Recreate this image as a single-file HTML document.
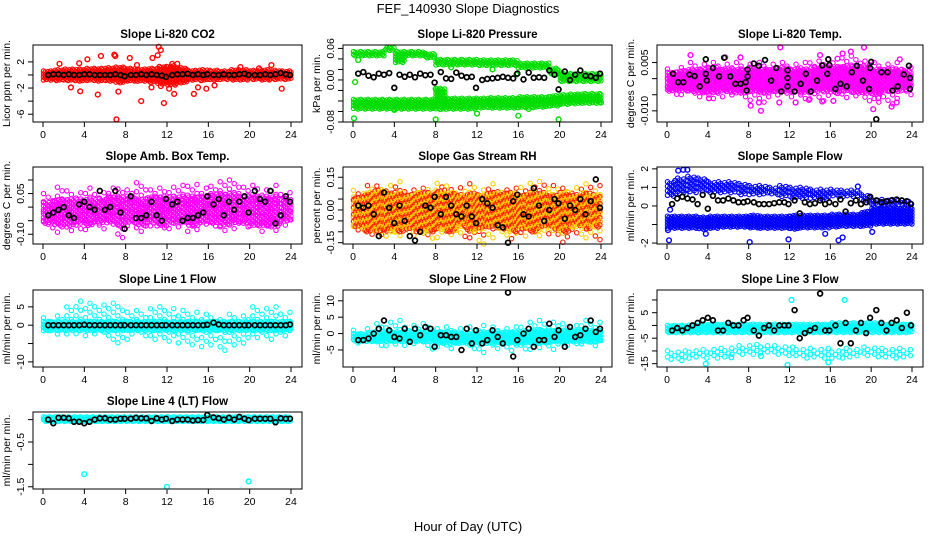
<!DOCTYPE html>
<html><head><meta charset="utf-8"><title>FEF_140930 Slope Diagnostics</title>
<style>
html,body{margin:0;padding:0;background:#fff;}
svg{display:block;font-family:"Liberation Sans",Arial,sans-serif;}
</style></head>
<body>
<svg id="chart" width="936" height="540" viewBox="0 0 936 540" xmlns="http://www.w3.org/2000/svg">
<rect x="0" y="0" width="936" height="540" fill="#fff"/>
<text x="468" y="13" text-anchor="middle" font-size="13">FEF_140930  Slope Diagnostics</text>
<text x="468" y="531" text-anchor="middle" font-size="13">Hour of Day (UTC)</text>
</svg>
<script>
// ---------- data ----------
const blackHours=[0.5,1,1.5,2,2.5,3,3.5,4,4.5,5,5.5,6,6.5,7,7.5,7.9,8.5,9,9.5,10,10.5,11,11.5,11.9,12.5,13,13.5,14,14.5,15,15.5,15.9,16.5,17,17.5,18,18.5,19,19.5,19.9,20.5,21,21.5,22,22.5,23,23.5,23.9];
const xTicks=[0,4,8,12,16,20,24];
// P1 CO2
const p1Lo=[-0.8,-0.9,-0.9,-1,-0.9,-1,-1,-1.2,-1,-1,-1.2,-1.4,-1.6,-1.2,-0.8,-0.9,-0.8,-0.7,-0.8,-0.8,-0.7,-0.8,-0.7,-0.7];
const p1Hi=[0.6,0.8,0.9,0.9,1,1,1.1,1.2,1,0.9,1,1.3,1.4,1.1,0.7,0.8,0.7,0.6,0.8,0.8,0.7,0.8,0.7,0.6];
const p1OutH=[1.6,3.5,4.3,5.6,6.9,7.0,8.4,11.2,11.4,11.1,10.6,3.6,5.3,7.3,7.1,9.5,11.7,11.4,12.2,12.7,12.5,13,14.6,15,15.8,16.6,19.1,20.9,22.1,23.1,10.5,9.1,2.7];
const p1OutV=[1.7,1.8,2.4,2.9,3.1,2.9,2.6,4.3,3.8,3.0,2.6,-2.5,-3.0,-2.55,-6.8,-4.0,-4.3,-1.7,-2.1,-2.9,1.7,1.7,-2.9,-1.9,-2.1,-1.6,1.2,1.0,1.5,-2.1,-1.9,1.5,-1.9];
const p1Black=[0,0.1,0.1,0,0.1,0,0,0.1,0.1,0,0,0,0,0.1,0,-0.2,0,0,0.1,0,0.1,0,-0.1,-0.3,0,0.1,0.1,0.2,0,0.1,0,0.1,0,0,0.1,0,0,0.1,0.2,0,0,0,0.1,0,0.1,0.3,0.1,0];
// P2 Pressure
const p2UpHi=[0.054,0.054,0.054,0.062,0.054,0.054,0.054,0.05,0.039,0.039,0.039,0.039,0.038,0.038,0.038,0.038,0.032,0.032,0.032,0.022,0.012,0.012,0.012,0.012];
const p2UpLo=[0.046,0.046,0.046,0.056,0.033,0.045,0.045,0.042,0.028,0.028,0.028,0.028,0.027,0.027,0.027,0.027,0.022,0.022,0.022,0.01,-0.003,-0.003,-0.003,-0.003];
const p2DnHi=[-0.037,-0.037,-0.037,-0.037,-0.037,-0.037,-0.037,-0.037,-0.016,-0.035,-0.035,-0.035,-0.035,-0.034,-0.034,-0.034,-0.032,-0.032,-0.032,-0.03,-0.028,-0.027,-0.026,-0.026];
const p2DnLo=[-0.056,-0.056,-0.056,-0.056,-0.056,-0.056,-0.056,-0.056,-0.056,-0.056,-0.056,-0.056,-0.054,-0.054,-0.054,-0.054,-0.053,-0.053,-0.052,-0.05,-0.047,-0.046,-0.045,-0.045];
const p2OutH=[0.2,0.1,4,8,12,16,19.9,24,8,0.5,9.5,13.5,15.8,17];
const p2OutV=[-0.004,-0.073,-0.057,-0.075,-0.064,-0.068,-0.075,-0.043,-0.017,0.038,0.024,0.02,0.01,-0.055];
const p2Black=[0.012,0.015,0.008,0.005,0.012,0.01,0.013,-0.015,0.01,0.006,0.01,0.005,0.012,0.009,0.01,-0.005,0.015,0.003,0.002,0.014,0.008,0.005,0.006,-0.015,0,0.002,0.003,0.004,0.006,0.004,0.003,0.012,0.001,0.014,0.004,0.005,0.004,0.018,0.01,-0.018,0.016,0,0.01,0.018,0.008,0.007,0.004,0.012];
// P3 Li-820 Temp
const p3Lo=[-0.004,-0.004,-0.004,-0.0045,-0.0045,-0.004,-0.0045,-0.0045,-0.004,-0.0045,-0.004,-0.004,-0.004,-0.0045,-0.004,-0.004,-0.0045,-0.004,-0.0045,-0.0045,-0.005,-0.004,-0.004,-0.0035];
const p3Hi=[0.002,0.0025,0.003,0.003,0.0035,0.003,0.003,0.003,0.0035,0.003,0.003,0.0035,0.003,0.003,0.0035,0.004,0.0035,0.004,0.004,0.004,0.003,0.003,0.003,0.0025];
const p3SpLo=[-0.005,-0.005,-0.006,-0.006,-0.007,-0.006,-0.006,-0.007,-0.007,-0.008,-0.006,-0.006,-0.006,-0.007,-0.007,-0.007,-0.006,-0.006,-0.006,-0.007,-0.008,-0.007,-0.008,-0.005];
const p3SpHi=[0.003,0.004,0.005,0.005,0.005,0.005,0.005,0.005,0.005,0.005,0.005,0.005,0.005,0.005,0.006,0.006,0.006,0.007,0.007,0.006,0.005,0.005,0.005,0.004];
const p3OutH=[2.3,5.7,7.2,11.1,4.1,8.2,9.2,9.0,11.0,12.6,13.9,15.2,16.3,17.2,18,19.3,20.2,22,22.5,22.8,15,16.7,20.7,0.2];
const p3OutV=[0.0073,0.0066,0.0066,0.0097,-0.0061,-0.0084,-0.0100,-0.0074,-0.0074,-0.0074,-0.0066,-0.0071,-0.0069,0.0078,0.0084,0.0097,-0.0095,-0.0087,-0.0074,0.006,0.0073,0.0062,-0.006,-0.003];
const p3BlackH=[0.6,1.1,1.6,2.2,2.7,3.2,3.8,3.8,3.9,4.5,5.1,5.6,6.2,6.7,7.2,7.7,7.8,7.9,7.9,8.5,9,9.6,10.2,10.7,11.2,11.8,11.8,11.8,12.5,13.1,13.6,14.1,14.7,15.2,15.7,15.8,15.9,16.5,17,17.6,18.1,18.6,19.2,19.8,19.9,20,20.5,21,21.6,22.1,22.6,23.2,23.7,23.8,23.8];
const p3BlackV=[0.0015,-0.0011,-0.0011,0.0013,0.0008,-0.0024,0.0015,0.006,-0.0006,0.0033,0.0007,0.0065,0.0007,-0.0016,-0.0016,-0.0011,-0.0037,0.0007,0.0028,0.0047,0.004,0.0058,-0.0006,0.0033,-0.004,-0.0024,0.0002,0.0026,-0.004,-0.0016,0.0015,-0.004,-0.0006,0.0041,0.0015,0.006,0.0042,-0.0032,-0.0016,-0.0024,0.002,0.004,-0.0006,-0.0032,0.0033,0.0052,-0.0126,0.002,0.002,-0.0037,-0.0024,0.0013,0.004,-0.0032,0.0002];
// P4 Amb box temp
const p4Lo=[-0.06,-0.07,-0.07,-0.06,-0.07,-0.06,-0.06,-0.07,-0.06,-0.07,-0.06,-0.07,-0.06,-0.06,-0.07,-0.06,-0.06,-0.07,-0.06,-0.06,-0.07,-0.07,-0.07,-0.05];
const p4Hi=[0.02,0.03,0.03,0.03,0.03,0.03,0.04,0.04,0.04,0.03,0.04,0.04,0.04,0.04,0.04,0.04,0.05,0.05,0.05,0.04,0.04,0.04,0.04,0.03];
const p4SpLo=[-0.08,-0.1,-0.09,-0.09,-0.09,-0.08,-0.08,-0.12,-0.08,-0.09,-0.08,-0.08,-0.09,-0.08,-0.09,-0.08,-0.08,-0.09,-0.08,-0.09,-0.08,-0.1,-0.09,-0.07];
const p4SpHi=[0.05,0.08,0.06,0.06,0.07,0.06,0.07,0.08,0.07,0.09,0.07,0.07,0.08,0.08,0.09,0.07,0.09,0.1,0.1,0.08,0.08,0.07,0.08,0.06];
const p4Black=[-0.03,-0.02,-0.01,0,-0.03,-0.04,0.01,0.02,0,-0.01,0.06,-0.01,0,0.06,-0.02,-0.08,0.04,-0.04,-0.04,-0.03,0.02,-0.03,-0.05,0.03,0.01,0.02,-0.05,-0.04,-0.04,-0.03,-0.02,0.04,0.01,0.03,-0.03,0.02,-0.01,0.02,0.04,-0.02,0.06,0.03,0.02,0.06,-0.06,-0.03,0.04,0.02];
// P5 Gas stream RH
const p5Lo=[-0.08,-0.1,-0.1,-0.1,-0.1,-0.09,-0.1,-0.1,-0.09,-0.1,-0.08,-0.1,-0.09,-0.08,-0.09,-0.1,-0.09,-0.1,-0.08,-0.09,-0.1,-0.08,-0.09,-0.08];
const p5Hi=[0.06,0.08,0.09,0.08,0.08,0.07,0.08,0.08,0.09,0.08,0.07,0.08,0.07,0.08,0.08,0.08,0.07,0.08,0.08,0.07,0.08,0.07,0.08,0.07];
const p5SpLo=[-0.1,-0.13,-0.13,-0.13,-0.12,-0.12,-0.13,-0.14,-0.13,-0.12,-0.13,-0.14,-0.16,-0.13,-0.12,-0.14,-0.13,-0.12,-0.13,-0.12,-0.15,-0.12,-0.13,-0.14];
const p5SpHi=[0.09,0.12,0.11,0.12,0.13,0.1,0.1,0.11,0.13,0.11,0.11,0.12,0.1,0.12,0.1,0.1,0.12,0.13,0.13,0.12,0.1,0.11,0.12,0.12];
const p5Black=[0.02,0.01,0.02,-0.02,-0.12,0.08,0.01,-0.06,0.02,-0.05,-0.12,-0.14,-0.1,0.02,0.01,0.06,-0.02,0.06,0.02,-0.02,-0.03,0.02,-0.03,-0.06,0.05,0.03,0.01,-0.07,-0.08,-0.15,0.04,0.07,-0.02,-0.03,0.1,0.02,-0.05,0,0.05,0.03,-0.04,0.02,0,0.05,-0.02,0.04,0.14,0.01];
// P6 Sample flow
const p6UpHi=[1.3,1.5,1.6,1.5,1.3,1.3,1.3,1.2,1.1,1.1,1.0,1.1,1.0,1.0,0.9,0.9,0.9,0.85,0.85,0.6,0.35,0.35,0.35,0.3];
const p6UpLo=[0.5,0.6,0.7,0.8,0.7,0.7,0.7,0.6,0.6,0.6,0.6,0.5,0.4,0.4,0.4,0.3,0.5,0.5,0.5,0.2,0.0,0.0,0.0,0.0];
const p6DnHi=[-0.55,-0.55,-0.55,-0.6,-0.55,-0.55,-0.55,-0.55,-0.5,-0.55,-0.55,-0.55,-0.5,-0.5,-0.5,-0.5,-0.45,-0.45,-0.45,-0.3,-0.1,-0.1,-0.1,-0.1];
const p6DnLo=[-1.2,-1.2,-1.2,-1.25,-1.2,-1.15,-1.15,-1.15,-1.2,-1.2,-1.2,-1.2,-1.25,-1.2,-1.2,-1.2,-1.15,-1.1,-1.1,-1.1,-1.0,-1.0,-1.0,-1.0];
const p6OutH=[0.2,0.3,0.8,1.1,1.6,2,0.1,3.8,8.1,11.9,15.5,16.8,17.2,20.1,18.7];
const p6OutV=[-1.85,-0.2,1.35,1.9,1.95,1.95,-1.3,-1.5,-1.95,-1.8,-1.5,-1.85,-1.7,-1.4,1.05];
const p6Black=[0.1,0.4,0.5,0.4,0.35,0.1,0.6,-0.15,0.55,0.3,0.3,0.4,0.3,0.2,0.2,0.25,0.2,0.1,0.1,0.1,0.15,0.2,0.2,0.1,0.3,-0.4,0.2,0.1,0.15,0.3,0.1,0.2,0.1,0.35,-0.3,0.15,0.3,0.1,0.2,0.5,0.3,0.2,0.25,0.3,0.35,0.3,0.25,0.1];
// P7 Line 1
const p7Lo=[-1.5,-1.5,-1.5,-1.5,-1.5,-1.5,-1.5,-1.5,-1.5,-1.5,-1.5,-1.5,-1.5,-1.5,-1.5,-1.5,-1.5,-1.5,-1.5,-1.5,-1.5,-1.5,-1.5,-1.5];
const p7Hi=[1,1,1,1,1,1,1,1,1,1,1,1,1,1,1,1,1,1,1,1,1,1,1,1];
const p7SpLo=[-2,-3,-3,-3,-3,-3,-4,-5,-4,-3,-5,-4,-5,-5,-6,-6,-6,-7,-6,-5,-4,-4,-4,-3];
const p7SpHi=[2,3,5,7,6,6,6,6,4,4,5,5,5,4,4,3,3,2,3,3,5,5,5,4];
const p7Black=[0,0,0,0,0,0,0,0.1,0,0,0,0,0,0,0,0,0,0,0,0,0,0,0,0,0,0,0,0,0,0,0,0.1,0.7,0.2,0,0,0,0,0,0,0,0,0,0,0,0,0,0.2];
// P8 Line 2
const p8Lo=[-2.5,-2.5,-2.5,-2.5,-2.5,-2.5,-2.5,-2.5,-3,-3,-3,-3,-3,-3,-3,-3,-3,-3,-3,-2.5,-2.5,-2.5,-2.5,-2.5];
const p8Hi=[0,0,0.5,0.5,0.5,0.5,0.5,0.5,0.5,0.5,0,0,0.5,0.5,0.5,0.5,0.5,1,1,1,1,1,1,1];
const p8SpLo=[-3,-4,-4,-4,-4,-4,-4,-5,-5,-5,-4,-5,-6,-5,-5,-6,-6,-5,-5,-5,-5,-4,-4,-4];
const p8SpHi=[1,2,3,4,4,3,3,3,2,2,2,2,3,2,2,2,3,4,4,4,3,3,4,4];
const p8Black=[-2,-2,-1.5,0,1.5,4,1,-1,-1.5,1.5,-2.5,1.5,-0.5,2,1.5,-4,-0.5,-0.5,-1,-1,-5,1.5,-3,1,-3,-2,1,-1,-3,12.5,-7,-2,0,1.5,-4,-2,-2,3,-1,1,-4,2,-1,-0.5,1.5,4,0.5,1.5];
// P9 Line 3
const p9UpLo=[-3,-3,-3,-3,-3,-3,-3,-3,-3,-3,-3,-3,-3,-3,-3,-3,-3,-3,-3,-3,-3,-3,-3,-3];
const p9UpHi=[0,0,0,0.5,0.5,0.5,0.5,0.5,0.5,0.5,0.5,0.5,0.5,0.5,0.5,0.5,1,1,1,1,1,0.5,0.5,0.5];
const p9DnLo=[-14,-14,-13.5,-13,-13,-12.5,-12,-12,-11.5,-11,-11.5,-12,-12.5,-13,-13,-13,-13,-13,-12.5,-12.5,-12.5,-13,-13,-13];
const p9DnHi=[-10,-10,-9.5,-9.5,-9,-9,-8.5,-8,-7.5,-7.5,-8,-8,-8.5,-9,-9,-9,-9.5,-9,-9,-8.5,-8.5,-9,-9,-9];
const p9OutH=[3.8,12.2,17.4,15.8,11.8,9.2,6.3];
const p9OutV=[-15,10,10,-14.5,-15.5,-12,-12.5];
const p9Black=[-2,-1,-2,-1,0,1,2,3,2,-2,-2,1,0,0,2,3,-2,-4,-1,0,-2,0,0,0,6,-5,-3,-2,-1,12.5,-2,-2,0,-7,1,-7,-2,1,-3,3,6,1,-2,1,2,-1,5,0];
// P10 Line 4
const p10Lo=[-0.05,-0.05,-0.05,-0.05,-0.05,-0.05,-0.05,-0.05,-0.05,-0.05,-0.05,-0.05,-0.05,-0.05,-0.05,-0.05,-0.05,-0.05,-0.05,-0.05,-0.05,-0.05,-0.05,-0.05];
const p10Hi=[0.06,0.06,0.06,0.06,0.06,0.06,0.06,0.06,0.06,0.06,0.06,0.06,0.06,0.06,0.06,0.06,0.06,0.06,0.06,0.06,0.06,0.06,0.06,0.06];
const p10OutH=[4,12,19.9];
const p10OutV=[-1.22,-1.5,-1.38];
const p10Black=[0,-0.08,0.04,0.04,0.03,-0.05,-0.05,-0.08,-0.05,0,0.03,0.03,0,0,0.02,0.02,0.02,0.04,0.03,0.03,-0.03,0.03,0,0.02,-0.03,0,0,0,-0.02,-0.01,-0.01,0.1,0.05,0.03,0,0.04,0,0.06,0.02,-0.01,0.02,0.02,0.02,0.02,-0.06,0.03,0.02,0.02];

// ---------- drawing ----------
const NS="http://www.w3.org/2000/svg";
const svg=document.getElementById('chart');
const colL=[33,343,657], colR=[302,612,923], rowT=[45,167,290,412], BH=77;
function mk(tag,attrs,parent){const e=document.createElementNS(NS,tag);for(const k in attrs)e.setAttribute(k,attrs[k]);(parent||svg).appendChild(e);return e;}
function panel(col,row,yMin,yMax,yTicks,yLabels,title,ytitle,name){
  const L=colL[col],R=colR[col],T=rowT[row],B=T+BH;
  const x0=L+10,x1=R-11;
  const g=mk('g',{});
  
  
  const p={L,R,T,B,g,
    x:h=>x0+(h/24)*(x1-x0),
    y:v=>B-(v-yMin)/(yMax-yMin)*(B-T)};
  const t=mk('text',{x:(L+R)/2,y:T-7,'text-anchor':'middle','font-size':'11.5','font-weight':'bold'},g);
  t.textContent=title;
  
  
  const yt=mk('text',{x:0,y:0,'text-anchor':'middle','font-size':'10.5',transform:`translate(${L-23},${(T+B)/2}) rotate(-90)`},g);
  yt.textContent=ytitle;
  
  
  const xa=mk('g',{},g);
  
  
  xTicks.forEach(v=>{const xx=p.x(v);
    mk('line',{x1:xx,y1:B,x2:xx,y2:B+5,stroke:'#000','stroke-width':1},xa);
    const tl=mk('text',{x:xx,y:B+16,'text-anchor':'middle','font-size':'10.5'},xa);tl.textContent=v;
    
    });
  const ya=mk('g',{},g);
  
  
  yTicks.forEach((v,i)=>{const yy=p.y(v);
    mk('line',{x1:L-5,y1:yy,x2:L,y2:yy,stroke:'#000','stroke-width':1},ya);
    if(yLabels[i]!==''){const tl=mk('text',{x:0,y:0,'text-anchor':'middle','font-size':'10.5',transform:`translate(${L-9},${yy}) rotate(-90)`},ya);tl.textContent=yLabels[i];
      
      }});
  p.pts=mk('g',{},g);
  
  
  return p;
}
function frame(p){const r=mk('rect',{x:p.L,y:p.T,width:p.R-p.L,height:p.B-p.T,fill:'none',stroke:'#000','stroke-width':1},p.g);
  
  }
function dot(p,h,v,color,w){const c=mk('circle',{cx:p.x(h).toFixed(1),cy:p.y(v).toFixed(1),r:2.4,fill:'none',stroke:color,'stroke-width':w||1.4},p.pts);
  
  }
function cloud(p,lo,hi,dx,dy,colors){
  for(let i=0;;i++){const t=0.05+i*dx;if(t>24)break;const h=Math.min(23,Math.floor(t));
    const yHi=p.y(hi[h]),yLo=p.y(lo[h]);const off=((i*37)%5)/5*dy;let j=0;
    for(let yy=yHi+off;yy<=yLo;yy+=dy,j++){const col=colors[(i+j)%colors.length];
      const c=mk('circle',{cx:p.x(t).toFixed(1),cy:yy.toFixed(1),r:2.2,fill:'none',stroke:col,'stroke-width':1.1},p.pts);
      
      }}
}
function outl(p,H,V,color){H.forEach((h,i)=>dot(p,h,V[i],color));}
function black(p,H,V){H.forEach((h,i)=>dot(p,h,V[i],'#000',1.7));}

const RED='#ff0000',GRN='#00dd00',MAG='#ff00ff',BLU='#0000ff',CYN='#00ffff';
const SDX=0.45,SDY=9;
let p=panel(0,0,-7.19,4.58,[-6,-4,-2,0,2],['-6','','-2','','2'],'Slope Li-820 CO2','Licor ppm per min.','co2');
cloud(p,p1Lo,p1Hi,0.14,3,[RED]);outl(p,p1OutH,p1OutV,RED);black(p,blackHours,p1Black);frame(p);
p=panel(1,0,-0.08,0.0665,[-0.08,-0.06,-0.04,-0.02,0,0.02,0.04,0.06],['-0.08','','','','0.00','','','0.06'],'Slope Li-820 Pressure','kPa per min.','pressure');
cloud(p,p2UpLo,p2UpHi,0.14,3,[GRN]);cloud(p,p2DnLo,p2DnHi,0.14,3,[GRN]);outl(p,p2OutH,p2OutV,GRN);black(p,blackHours,p2Black);frame(p);
p=panel(2,0,-0.01347,0.01045,[-0.01,-0.005,0,0.005],['-0.010','','','0.005'],'Slope Li-820 Temp.','degrees C per min.','licor-temp');
cloud(p,p3SpLo,p3SpHi,SDX,SDY,[MAG]);cloud(p,p3Lo,p3Hi,0.16,3.5,[MAG]);outl(p,p3OutH,p3OutV,MAG);black(p,p3BlackH,p3BlackV);frame(p);
p=panel(0,1,-0.136,0.148,[-0.1,-0.05,0,0.05,0.1],['-0.10','','','0.05',''],'Slope Amb. Box Temp.','degrees C per min.','amb-box-temp');
cloud(p,p4SpLo,p4SpHi,SDX,SDY,[MAG]);cloud(p,p4Lo,p4Hi,0.18,4,[MAG]);black(p,blackHours,p4Black);frame(p);
p=panel(1,1,-0.156,0.197,[-0.15,-0.1,-0.05,0,0.05,0.1,0.15],['-0.15','','','0.00','','','0.15'],'Slope Gas Stream RH','percent per min.','gas-stream-rh');
cloud(p,p5SpLo,p5SpHi,SDX,SDY,['#ffd000','#ff2000']);cloud(p,p5Lo,p5Hi,0.16,3.5,['#ffd000','#ff2000']);black(p,blackHours,p5Black);frame(p);
p=panel(2,1,-2.05,2.1,[-2,-1,0,1,2],['-2','','0','1','2'],'Slope Sample Flow','ml/min per min.','sample-flow');
cloud(p,p6UpLo,p6UpHi,0.2,4.5,[BLU]);cloud(p,p6DnLo,p6DnHi,0.14,3,[BLU]);outl(p,p6OutH,p6OutV,BLU);black(p,blackHours,p6Black);frame(p);
p=panel(0,2,-11.4,9.6,[-10,-5,0,5],['-10','','0','5'],'Slope Line 1 Flow','ml/min per min.','line1-flow');
cloud(p,p7SpLo,p7SpHi,SDX,SDY,[CYN]);cloud(p,p7Lo,p7Hi,0.14,3,[CYN]);black(p,blackHours,p7Black);frame(p);
p=panel(1,2,-10.2,13.3,[-5,0,5,10],['-5','0','5','10'],'Slope Line 2 Flow','ml/min per min.','line2-flow');
cloud(p,p8SpLo,p8SpHi,SDX,SDY,[CYN]);cloud(p,p8Lo,p8Hi,0.14,3,[CYN]);black(p,blackHours,p8Black);frame(p);
p=panel(2,2,-16.3,13.9,[-15,-10,-5,0,5,10],['-15','','-5','','5',''],'Slope Line 3 Flow','ml/min per min.','line3-flow');
cloud(p,p9UpLo,p9UpHi,0.14,3,[CYN]);cloud(p,p9DnLo,p9DnHi,0.35,6,[CYN]);outl(p,p9OutH,p9OutV,CYN);black(p,blackHours,p9Black);frame(p);
p=panel(0,3,-1.55,0.17,[-1.5,-1,-0.5,0],['-1.5','','-0.5',''],'Slope Line 4 (LT) Flow','ml/min per min.','line4-flow');
cloud(p,p10Lo,p10Hi,0.12,2.5,[CYN]);outl(p,p10OutH,p10OutV,CYN);black(p,blackHours,p10Black);frame(p);
</script>
</body></html>
